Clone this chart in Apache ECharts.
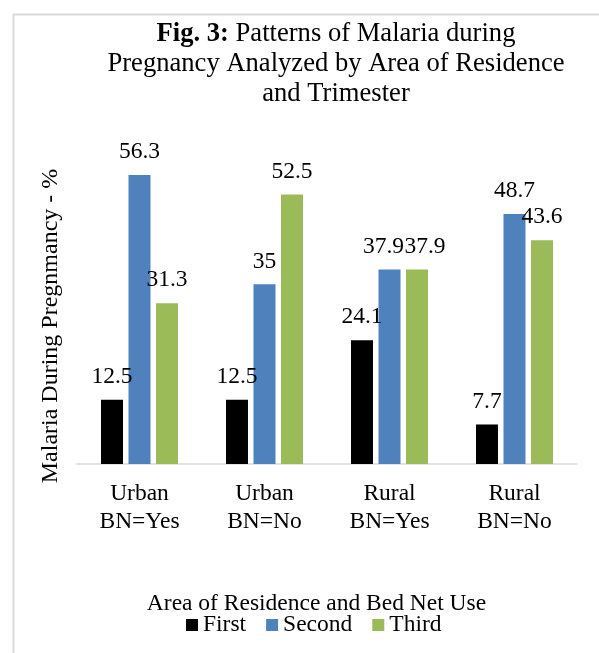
<!DOCTYPE html>
<html>
<head>
<meta charset="utf-8">
<script src="https://cdn.jsdelivr.net/npm/echarts@6/dist/echarts.min.js"></script>
<style>html,body{margin:0;padding:0;background:#fff;}#chart{width:599px;height:653px;}</style>
</head>
<body>
<div id="chart"></div>
<script>
var categories = ['Urban\nBN=Yes', 'Urban\nBN=No', 'Rural\nBN=Yes', 'Rural\nBN=No'];
var seriesNames = ['First', 'Second', 'Third'];
var firstValues = [12.5, 12.5, 24.1, 7.7];
var secondValues = [56.3, 35, 37.9, 48.7];
var thirdValues = [31.3, 52.5, 37.9, 43.6];
var titleText = 'Patterns of Malaria during\nPregnancy Analyzed by Area of Residence\nand Trimester';
var xAxisTitle = 'Area of Residence and Bed Net Use';
var yAxisTitle = 'Malaria During Pregnmancy - %';

var FONT = "'Liberation Serif', 'Times New Roman', serif";
var colors = ['#000000', '#4F81BD', '#9BBB59'];
var labelOffsets = [[0,0,0,0],[0,0,-6,0],[0,0,8,0]];
var allValues = [firstValues, secondValues, thirdValues];

var chart = echarts.init(document.getElementById('chart'));
var series = seriesNames.map(function (name, s) {
  return {
    name: name,
    type: 'bar',
    barGap: '25%',
    barCategoryGap: '38.4%',
    itemStyle: { color: colors[s] },
    label: {
      show: true, position: 'top', distance: 11,
      fontFamily: FONT, fontSize: 23.5, color: '#000'
    },
    data: allValues[s].map(function (v, i) {
      return { value: v, label: { offset: [labelOffsets[s][i], 0] } };
    })
  };
});

chart.setOption({
  animation: false,
  backgroundColor: '#fff',
  title: {
    text: '{b|Fig. 3:} ' + titleText.split('\n')[0] + '\n' + titleText.split('\n').slice(1).join('\n'),
    left: 331, top: 14, textAlign: 'center',
    textStyle: {
      fontFamily: FONT, fontSize: 26.6, fontWeight: 'normal', color: '#000', lineHeight: 30,
      rich: { b: { fontFamily: FONT, fontSize: 26.6, fontWeight: 'bold', color: '#000', lineHeight: 30 } }
    }
  },
  graphic: [{
    type: 'rect', left: 11, top: 12, silent: true,
    shape: { x: 0, y: 0, width: 700, height: 700 },
    style: { fill: 'none', stroke: '#d9d9d9', lineWidth: 2 }
  }],
  legend: {
    data: seriesNames, left: 181, top: 608,
    icon: 'rect', itemWidth: 12, itemHeight: 12, itemGap: 20,
    textStyle: { fontFamily: FONT, fontSize: 23.5, color: '#000' }
  },
  grid: { left: 77, right: 22, top: 156, bottom: 189, containLabel: false },
  xAxis: {
    type: 'category', data: categories,
    name: xAxisTitle, nameLocation: 'middle', nameGap: 128,
    nameTextStyle: { fontFamily: FONT, fontSize: 23.5, color: '#000', padding: [0, 21, 0, 0] },
    axisLine: { show: true, lineStyle: { color: '#d9d9d9', width: 1.5 } },
    axisTick: { show: false },
    axisLabel: { fontFamily: FONT, fontSize: 23.5, color: '#000', lineHeight: 28, margin: 16, interval: 0 }
  },
  yAxis: {
    type: 'value', min: 0, max: 60,
    name: yAxisTitle, nameLocation: 'middle', nameGap: 14,
    nameTextStyle: { fontFamily: FONT, fontSize: 24, color: '#000', padding: [0, 32, 0, 0] },
    axisLine: { show: false }, axisTick: { show: false },
    axisLabel: { show: false }, splitLine: { show: false }
  },
  series: series
});
</script>
</body>
</html>
